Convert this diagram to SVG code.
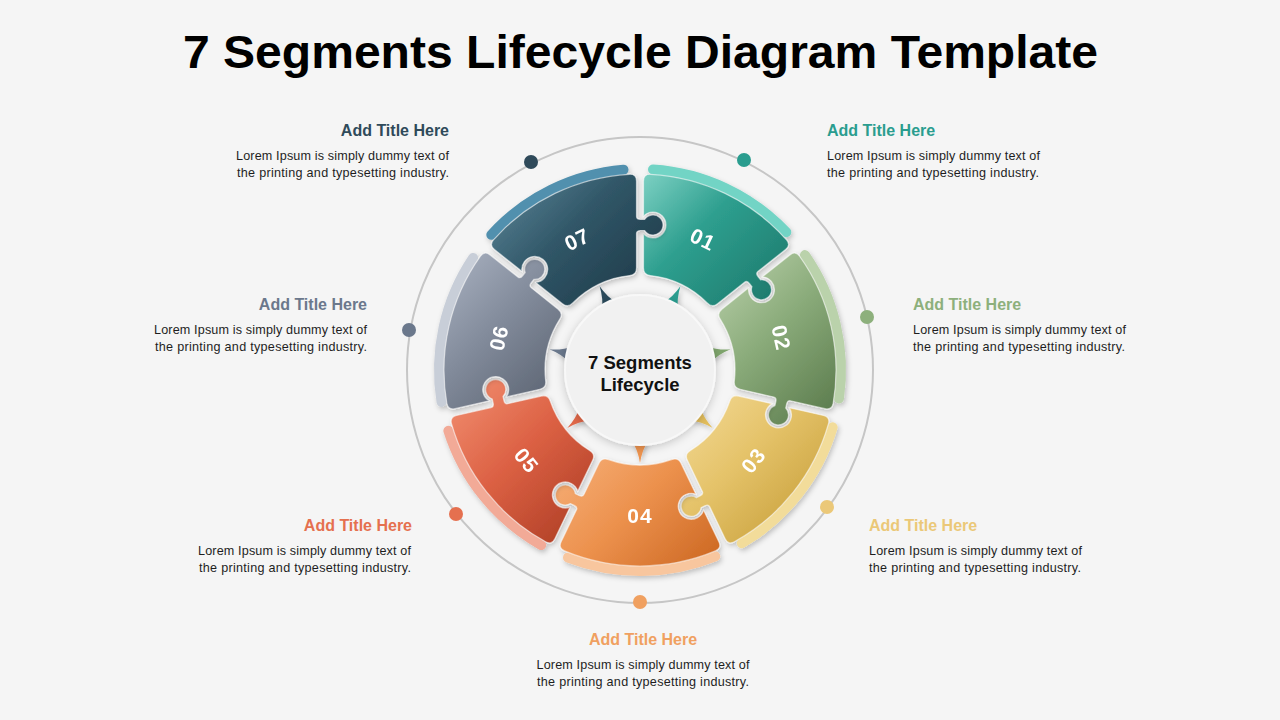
<svg xmlns="http://www.w3.org/2000/svg" width="1280" height="720" viewBox="0 0 1280 720">
<style>
.title{font-family:"Liberation Sans",Arial,sans-serif;font-weight:bold;font-size:46px;fill:#000}
.ht{font-family:"Liberation Sans",Arial,sans-serif;font-weight:bold;font-size:16px}
.bt{font-family:"Liberation Sans",Arial,sans-serif;font-size:12.6px;fill:#1e1e1e}
.num{font-family:"Liberation Sans",Arial,sans-serif;font-weight:bold;font-size:21px;fill:#fff;text-anchor:middle;letter-spacing:1px}
.ctr{font-family:"Liberation Sans",Arial,sans-serif;font-weight:bold;font-size:18.5px;fill:#111;text-anchor:middle}
.strip{fill:none;stroke-width:10;stroke-linecap:round}
.piece{stroke:#ffffff;stroke-opacity:0.55;stroke-width:1.2}
</style>
<defs>
<filter id="sh" x="-20%" y="-20%" width="140%" height="140%">
<feDropShadow dx="1.5" dy="2.5" stdDeviation="2.5" flood-color="#000" flood-opacity="0.22"/>
</filter>
<filter id="csh" x="-30%" y="-30%" width="160%" height="160%">
<feDropShadow dx="0" dy="2" stdDeviation="4" flood-color="#000" flood-opacity="0.2"/>
</filter>
<path id="seg" d="M 31.53 89.62 Q 38.04 87.06 41.08 93.37 L 55.91 124.17 A 13 13 0 1 0 63.61 140.15 L 78.83 171.77 Q 81.87 178.08 75.48 180.88 A 196 196 0 0 1 -75.48 180.88 Q -81.87 178.08 -78.83 171.77 L -63.45 139.82 Q -62.15 137.12 -65.75 135.38 L -69.49 133.58 A 10 10 0 1 1 -64.72 123.67 L -60.98 125.47 Q -57.37 127.20 -56.07 124.50 L -41.08 93.37 Q -38.04 87.06 -31.53 89.62 A 95 95 0 0 0 31.53 89.62 Z"/>
<path id="strip" d="M 75.30 186.36 A 201 201 0 0 1 -72.03 187.65"/>
<path id="ptr" d="M -8.5 70 Q -2 80 0 93 Q 2 80 8.5 70 Z"/>
<linearGradient id="g01" gradientUnits="userSpaceOnUse" x1="-12.09" y1="-205.64" x2="137.91" y2="-55.64" gradientTransform="rotate(-205.714)">
<stop offset="0" stop-color="#8fdccf"/><stop offset="0.45" stop-color="#2e9f8f"/><stop offset="1" stop-color="#1c7669"/></linearGradient>
<linearGradient id="g02" gradientUnits="userSpaceOnUse" x1="66.36" y1="-107.27" x2="216.36" y2="42.73" gradientTransform="rotate(-257.143)">
<stop offset="0" stop-color="#bdd3ae"/><stop offset="0.45" stop-color="#8aab7a"/><stop offset="1" stop-color="#557547"/></linearGradient>
<linearGradient id="g03" gradientUnits="userSpaceOnUse" x1="38.37" y1="15.41" x2="188.37" y2="165.41" gradientTransform="rotate(-308.571)">
<stop offset="0" stop-color="#f5dd9c"/><stop offset="0.45" stop-color="#e5c36a"/><stop offset="1" stop-color="#c39a33"/></linearGradient>
<linearGradient id="g04" gradientUnits="userSpaceOnUse" x1="-75" y1="70" x2="75" y2="220">
<stop offset="0" stop-color="#f7b27c"/><stop offset="0.45" stop-color="#ec914d"/><stop offset="1" stop-color="#c7601a"/></linearGradient>
<linearGradient id="g05" gradientUnits="userSpaceOnUse" x1="-188.37" y1="15.41" x2="-38.37" y2="165.41" gradientTransform="rotate(-51.429)">
<stop offset="0" stop-color="#f28e70"/><stop offset="0.45" stop-color="#dc6144"/><stop offset="1" stop-color="#a93a21"/></linearGradient>
<linearGradient id="g06" gradientUnits="userSpaceOnUse" x1="-216.36" y1="-107.27" x2="-66.36" y2="42.73" gradientTransform="rotate(-102.857)">
<stop offset="0" stop-color="#aeb6c5"/><stop offset="0.45" stop-color="#828b9b"/><stop offset="1" stop-color="#525a68"/></linearGradient>
<linearGradient id="g07" gradientUnits="userSpaceOnUse" x1="-137.91" y1="-205.64" x2="12.09" y2="-55.64" gradientTransform="rotate(-154.286)">
<stop offset="0" stop-color="#5f8a9c"/><stop offset="0.45" stop-color="#305667"/><stop offset="1" stop-color="#1c3543"/></linearGradient>
</defs>

<rect width="1280" height="720" fill="#f5f5f5"/>

<text class="title" x="640.5" y="68" text-anchor="middle" textLength="915" lengthAdjust="spacingAndGlyphs">7 Segments Lifecycle Diagram Template</text>

<g id="ring">
<circle cx="640" cy="370" r="233" fill="none" stroke="#c6c6c6" stroke-width="2"/>
<circle cx="744" cy="160" r="7" fill="#2a9d8f"/>
<circle cx="867" cy="317" r="7" fill="#8db07c"/>
<circle cx="827" cy="507" r="7" fill="#ebc878"/>
<circle cx="640" cy="602" r="7" fill="#f0a060"/>
<circle cx="456" cy="514" r="7" fill="#e5704f"/>
<circle cx="409" cy="330" r="7" fill="#6b788c"/>
<circle cx="531" cy="162" r="7" fill="#2f4a5a"/>
</g>

<g id="seg-01" filter="url(#sh)">
<g transform="translate(640 370) rotate(205.714)">
<use href="#strip" class="strip" stroke="#72d4c5"/>
<use href="#seg" class="piece" fill="url(#g01)"/>
<use href="#ptr" fill="#2a9d8f"/>
<text class="num" x="0" y="152.5" transform="rotate(180 0 145)">01</text>
</g>
</g>
<g id="seg-02" filter="url(#sh)">
<g transform="translate(640 370) rotate(257.143)">
<use href="#strip" class="strip" stroke="#bad2ab"/>
<use href="#seg" class="piece" fill="url(#g02)"/>
<use href="#ptr" fill="#7ea46c"/>
<text class="num" x="0" y="152.5" transform="rotate(180 0 145)">02</text>
</g>
</g>
<g id="seg-03" filter="url(#sh)">
<g transform="translate(640 370) rotate(308.571)">
<use href="#strip" class="strip" stroke="#f2dc9a"/>
<use href="#seg" class="piece" fill="url(#g03)"/>
<use href="#ptr" fill="#e2bd5c"/>
<text class="num" x="0" y="152.5">03</text>
</g>
</g>
<g id="seg-04" filter="url(#sh)">
<g transform="translate(640 370)">
<use href="#strip" class="strip" stroke="#f8c69e"/>
<use href="#seg" class="piece" fill="url(#g04)"/>
<use href="#ptr" fill="#ee9450"/>
<text class="num" x="0" y="152.5">04</text>
</g>
</g>
<g id="seg-05" filter="url(#sh)">
<g transform="translate(640 370) rotate(51.429)">
<use href="#strip" class="strip" stroke="#f2aa97"/>
<use href="#seg" class="piece" fill="url(#g05)"/>
<use href="#ptr" fill="#e0684a"/>
<text class="num" x="0" y="152.5">05</text>
</g>
</g>
<g id="seg-06" filter="url(#sh)">
<g transform="translate(640 370) rotate(102.857)">
<use href="#strip" class="strip" stroke="#c8ced8"/>
<use href="#seg" class="piece" fill="url(#g06)"/>
<use href="#ptr" fill="#6b788c"/>
<text class="num" x="0" y="152.5" transform="rotate(180 0 145)">06</text>
</g>
</g>
<g id="seg-07" filter="url(#sh)">
<g transform="translate(640 370) rotate(154.286)">
<use href="#strip" class="strip" stroke="#5190ae"/>
<use href="#seg" class="piece" fill="url(#g07)"/>
<use href="#ptr" fill="#2a4a5a"/>
<text class="num" x="0" y="152.5" transform="rotate(180 0 145)">07</text>
</g>
</g>

<g id="center">
<circle cx="640" cy="370" r="75" fill="#f1f1f1" stroke="#f8f8f8" stroke-width="2" filter="url(#csh)"/>
<text class="ctr" x="640" y="369">7 Segments</text>
<text class="ctr" x="640" y="391">Lifecycle</text>
</g>

<g id="text-07" text-anchor="end">
<text class="ht" x="449" y="135.8" fill="#2f4a5a">Add Title Here</text>
<text class="bt" x="449" y="159.7" textLength="213">Lorem Ipsum is simply dummy text of</text>
<text class="bt" x="449" y="176.7" textLength="212">the printing and typesetting industry.</text>
</g>
<g id="text-01" text-anchor="start">
<text class="ht" x="827" y="135.8" fill="#2a9d8f">Add Title Here</text>
<text class="bt" x="827" y="159.7" textLength="213">Lorem Ipsum is simply dummy text of</text>
<text class="bt" x="827" y="176.7" textLength="212">the printing and typesetting industry.</text>
</g>
<g id="text-06" text-anchor="end">
<text class="ht" x="367" y="309.8" fill="#6b788c">Add Title Here</text>
<text class="bt" x="367" y="333.7" textLength="213">Lorem Ipsum is simply dummy text of</text>
<text class="bt" x="367" y="350.7" textLength="212">the printing and typesetting industry.</text>
</g>
<g id="text-02" text-anchor="start">
<text class="ht" x="913" y="309.8" fill="#8db07c">Add Title Here</text>
<text class="bt" x="913" y="333.7" textLength="213">Lorem Ipsum is simply dummy text of</text>
<text class="bt" x="913" y="350.7" textLength="212">the printing and typesetting industry.</text>
</g>
<g id="text-05" text-anchor="end">
<text class="ht" x="412" y="530.8" fill="#e5704f">Add Title Here</text>
<text class="bt" x="411" y="554.7" textLength="213">Lorem Ipsum is simply dummy text of</text>
<text class="bt" x="411" y="571.7" textLength="212">the printing and typesetting industry.</text>
</g>
<g id="text-03" text-anchor="start">
<text class="ht" x="869" y="530.8" fill="#ebc878">Add Title Here</text>
<text class="bt" x="869" y="554.7" textLength="213">Lorem Ipsum is simply dummy text of</text>
<text class="bt" x="869" y="571.7" textLength="212">the printing and typesetting industry.</text>
</g>
<g id="text-04" text-anchor="middle">
<text class="ht" x="643" y="644.8" fill="#f0a060">Add Title Here</text>
<text class="bt" x="643" y="668.7" textLength="213">Lorem Ipsum is simply dummy text of</text>
<text class="bt" x="643" y="685.7" textLength="212">the printing and typesetting industry.</text>
</g>
</svg>
